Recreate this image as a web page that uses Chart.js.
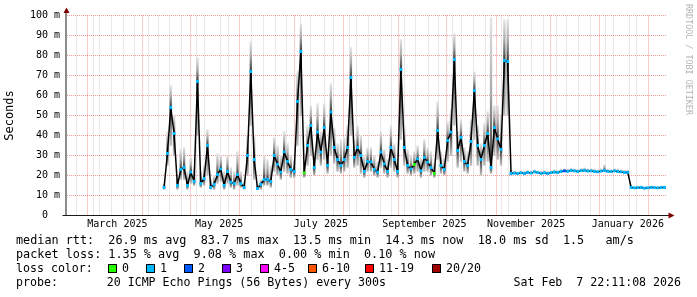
<!DOCTYPE html>
<html lang="en">
<head>
<meta charset="UTF-8">
<title>Median RTT - last 360 days</title>
<style>
  body { margin: 0; background: #fff; }
  canvas { display: block; }
</style>
</head>
<body>
<canvas id="rtt" width="697" height="297"></canvas>
<script src="https://cdn.jsdelivr.net/npm/chart.js@4.4.1/dist/chart.umd.min.js"></script>
<script>
// one consolidated sample every 2 days, first one on 13 Apr 2025
const firstSample = '2025-04-13';
const stepDays = 2;

// median rtt in ms
const median = [
  14, 31, 54, 41, 15, 23, 24, 15, 21.7, 17,
  67, 16, 18.5, 35, 14, 15.5, 20.5, 23.3, 15, 22,
  16.7, 16, 20.5, 16, 14, 30, 72, 28, 13.5, 15.5,
  18, 18, 17, 30, 25.6, 21.7, 31.8, 27, 23, 22,
  57, 82, 21.3, 35, 45, 24, 41.7, 31.7, 44, 25,
  51.7, 34, 28, 25, 28, 34, 69, 29, 34, 30,
  22, 27, 26.8, 23, 21.7, 31.7, 25.8, 22, 34, 28,
  22, 73, 34, 25, 23.3, 25.5, 28.3, 22.3, 29, 26.7,
  24, 21, 42.5, 25, 23, 37.5, 41.7, 78, 32.5, 39,
  27, 25, 37, 62.5, 35, 28, 35, 41, 24, 44,
  38.3, 33, 77.5, 77, 21, 21.2, 21.0, 21.3, 21.0, 21.5,
  21.2, 21.8, 21.4, 21.1, 21.3, 21.0, 21.4, 21.7, 21.5, 22.0,
  22.3, 22.1, 22.5, 22.3, 22.0, 22.4, 22.6, 22.2, 22.3, 22.0,
  21.8, 22.2, 22.5, 22.1, 21.9, 22.3, 22.0, 21.8, 21.5, 21.6,
  14.0, 13.8, 13.9, 14.0, 13.7, 13.8, 14.1, 13.9, 13.8, 14.0,
  14.0
];
// smoke: lowest and highest of the 20 pings, ms
const smokeLo = [
  13, 25, 35, 30, 13, 18, 18, 13, 16, 15,
  40, 14, 15, 20, 13, 13, 16, 17, 13, 16,
  14, 13, 15, 14, 13, 20, 45, 18, 13, 13,
  15, 15, 14, 22, 20, 18, 22, 21, 19, 19,
  35, 50, 19, 25, 30, 20, 28, 25, 28, 21,
  30, 26, 22, 21, 22, 24, 40, 24, 25, 21,
  19, 22, 22, 20, 19, 24, 21, 19, 24, 22,
  19, 38, 25, 21, 20, 21, 22, 19, 22, 22,
  20, 19, 28, 21, 20, 27, 30, 45, 24, 27,
  22, 21, 25, 38, 25, 20, 25, 27, 21, 30,
  28, 25, 50, 50, 20, 20.8, 20.6, 20.9, 20.6, 21.0,
  20.8, 21.3, 21.0, 20.7, 20.9, 20.6, 21.0, 21.2, 21.0, 21.6,
  21.8, 21.7, 22.0, 21.8, 21.6, 21.9, 22.1, 21.8, 21.8, 21.6,
  21.4, 21.8, 22.0, 21.7, 21.5, 21.8, 21.6, 21.4, 21.1, 21.2,
  13.6, 13.4, 13.5, 13.6, 13.3, 13.4, 13.7, 13.5, 13.4, 13.6,
  13.6
];
const smokeHi = [
  16, 42, 65, 50, 19, 33, 34, 22, 29, 24,
  79, 22, 25, 43, 18, 20, 31, 30, 22, 30,
  24, 22, 32, 22, 17, 40, 87, 40, 16, 18,
  30, 28, 25, 39, 35, 30, 42, 36, 30, 28,
  72, 96, 26, 45, 55, 32, 56, 42, 56, 33,
  66, 44, 36, 38, 39, 45, 84, 38, 45, 40,
  30, 34, 34, 30, 27, 42, 33, 28, 45, 36,
  28, 88, 45, 33, 30, 32, 35, 29, 38, 34,
  32, 26, 57, 32, 29, 47, 53, 91, 42, 48,
  34, 32, 48, 72, 45, 36, 46, 52, 99, 55,
  55, 50, 98, 98, 23, 22.3, 22.0, 22.5, 22.2, 22.6,
  22.4, 23.0, 22.5, 22.3, 22.6, 22.1, 22.5, 23.0, 22.6, 23.2,
  23.4, 23.3, 23.8, 23.5, 23.2, 23.6, 24.0, 23.4, 23.5, 23.3,
  23.0, 23.4, 25.5, 23.3, 23.1, 23.5, 23.3, 23.0, 22.7, 22.8,
  14.8, 14.6, 14.7, 14.9, 14.5, 14.6, 14.9, 14.7, 14.6, 14.8,
  14.8
];
// loss colour index per sample
const loss = [
  1, 1, 1, 1, 1, 1, 1, 1, 1, 1, 1, 1, 1, 1, 1, 1, 1, 1, 1, 1,
  1, 1, 1, 1, 1, 1, 1, 1, 1, 1, 1, 1, 1, 1, 1, 1, 1, 1, 1, 1,
  1, 1, 0, 1, 1, 1, 1, 1, 1, 1, 1, 1, 1, 1, 1, 1, 1, 1, 1, 1,
  1, 1, 1, 1, 1, 1, 1, 1, 1, 1, 1, 1, 1, 1, 1, 0, 1, 1, 1, 1,
  1, 0, 1, 1, 1, 1, 1, 1, 1, 1, 1, 1, 1, 1, 1, 1, 1, 1, 1, 1,
  1, 1, 1, 1, 1, 1, 1, 1, 1, 1, 1, 1, 1, 1, 1, 1, 1, 1, 1, 1,
  2, 1, 1, 1, 1, 1, 1, 1, 1, 1, 1, 1, 1, 1, 1, 1, 1, 1, 1, 1,
  1, 1, 1, 1, 1, 1, 1, 1, 1, 1, 1
];

const lossColors = ['#26ff00', '#00b8ff', '#0059ff', '#7e00ff', '#ff00ff', '#ff5500', '#ff0000', '#a10000'];
const lossNames = ['0', '1', '2', '3', '4-5', '6-10', '11-19', '20/20'];

const monthStarts = ['2025-03-01', '2025-04-01', '2025-05-01', '2025-06-01', '2025-07-01', '2025-08-01',
                     '2025-09-01', '2025-10-01', '2025-11-01', '2025-12-01', '2026-01-01', '2026-02-01'];
const xLabelDates = ['2025-03-16', '2025-05-16', '2025-07-16', '2025-09-16', '2025-11-16', '2026-01-16'];
const xLabelText = ['March 2025', 'May 2025', 'July 2025', 'September 2025', 'November 2025', 'January 2026'];

const statsLines = [
  'median rtt:  26.9 ms avg  83.7 ms max  13.5 ms min  14.3 ms now  18.0 ms sd  1.5   am/s',
  'packet loss: 1.35 % avg  9.08 % max  0.00 % min  0.10 % now'
];
const probeLine = 'probe:       20 ICMP Echo Pings (56 Bytes) every 300s';
const stampLine = 'Sat Feb  7 22:11:08 2026';

// x axis in days since 1 Mar 2025
const DAY0 = Date.UTC(2025, 2, 1);
function dayOf(s) { return (Date.parse(s + 'T00:00:00Z') - DAY0) / 864e5; }
const xMin = -15.2, xMax = 343.9;

const days = median.map((v, i) => dayOf(firstSample) + i * stepDays);
const sundays = [];
for (let d = dayOf('2025-02-16'); d <= xMax; d += 7) sundays.push(d);

const MONO = '"DejaVu Sans Mono", monospace';
const RED_GRID = 'rgba(235,50,50,0.5)';
const GRAY_GRID = '#d2d2d2';

function xTicks(scale) {
  const majors = monthStarts.map(dayOf);
  const t = majors.map(v => ({ value: v, kind: 'major', text: '' }));
  sundays.forEach(v => { if (!majors.includes(v)) t.push({ value: v, kind: 'minor', text: '' }); });
  xLabelDates.forEach((s, i) => t.push({ value: dayOf(s), kind: 'label', text: xLabelText[i] }));
  t.sort((a, b) => a.value - b.value);
  scale.ticks = t;
}

// smoke shading: dark around the median, light towards the extremes
function smokeFill(c) {
  const chart = c.chart, y = chart.scales.y;
  if (c.type !== 'data' || !y || !chart.chartArea) return '#bbb';
  const i = c.dataIndex;
  const top = y.getPixelForValue(smokeHi[i]);
  const bot = y.getPixelForValue(smokeLo[i]);
  const mid = y.getPixelForValue(median[i]);
  if (bot - top < 1) return '#999';
  let f = (mid - top) / (bot - top);
  f = Math.min(0.98, Math.max(0.02, f));
  const g = chart.ctx.createLinearGradient(0, top, 0, bot);
  g.addColorStop(0, '#e6e6e6');
  g.addColorStop(f * 0.5, '#a9a9a9');
  g.addColorStop(f, '#3a3a3a');
  g.addColorStop(1, '#c4c4c4');
  return g;
}

const decorations = {
  id: 'decorations',
  afterDraw(chart) {
    const ctx = chart.ctx, a = chart.chartArea;
    ctx.save();
    // axes
    ctx.lineWidth = 1;
    ctx.strokeStyle = '#1a1a1a';
    ctx.beginPath();
    ctx.moveTo(66, 13); ctx.lineTo(66, a.bottom);
    ctx.stroke();
    ctx.beginPath();
    ctx.moveTo(62.5, 215.5); ctx.lineTo(669, 215.5);
    ctx.stroke();
    ctx.fillStyle = '#7f0000';
    ctx.beginPath();
    ctx.moveTo(66.5, 7.5); ctx.lineTo(63.5, 13); ctx.lineTo(69.5, 13); ctx.closePath();
    ctx.fill();
    ctx.beginPath();
    ctx.moveTo(674.5, 215.5); ctx.lineTo(668.5, 212.5); ctx.lineTo(668.5, 218.5); ctx.closePath();
    ctx.fill();

    // watermark
    ctx.save();
    ctx.translate(688, 4);
    ctx.rotate(Math.PI / 2);
    ctx.font = '8.4px ' + MONO;
    ctx.fillStyle = '#b4b4b4';
    ctx.textBaseline = 'middle';
    ctx.fillText('RRDTOOL / TOBI OETIKER', 0, 0);
    ctx.restore();

    // legend
    ctx.fillStyle = '#000';
    ctx.textBaseline = 'middle';
    ctx.textAlign = 'left';
    ctx.font = '11.8px ' + MONO;
    ctx.fillText(statsLines[0], 16, 241);
    ctx.fillText(statsLines[1], 16, 255);
    ctx.font = '11.6px ' + MONO;
    ctx.fillText('loss color:', 16, 269);
    const boxX = [108, 146, 184, 222, 260, 308, 365, 432];
    lossNames.forEach((n, i) => {
      ctx.fillStyle = lossColors[i];
      ctx.fillRect(boxX[i], 264, 9, 9);
      ctx.strokeStyle = '#000';
      ctx.strokeRect(boxX[i] + 0.5, 264.5, 8, 8);
      ctx.fillStyle = '#000';
      ctx.fillText(n, boxX[i] + 14, 269);
    });
    ctx.fillText(probeLine, 16, 283);
    ctx.textAlign = 'right';
    ctx.fillText(stampLine, 681, 283);
    ctx.restore();
  }
};

new Chart(document.getElementById('rtt'), {
  type: 'bar',
  data: {
    datasets: [
      {
        type: 'line',
        label: 'median',
        data: days.map((d, i) => ({ x: d, y: median[i] })),
        borderColor: '#000',
        borderWidth: 1.5,
        borderJoinStyle: 'bevel',
        tension: 0,
        pointStyle: 'rect',
        pointRadius: 2,
        pointBorderWidth: 0,
        pointBackgroundColor: loss.map(l => lossColors[l]),
        order: 0
      },
      {
        type: 'bar',
        label: 'smoke',
        data: days.map((d, i) => ({ x: d, y: [smokeLo[i], smokeHi[i]] })),
        backgroundColor: smokeFill,
        borderWidth: 0,
        barPercentage: 1,
        categoryPercentage: 1,
        grouped: false,
        order: 1
      }
    ]
  },
  options: {
    responsive: false,
    animation: false,
    events: [],
    layout: { padding: { top: 15.5, right: 31, bottom: 66, left: 0 } },
    plugins: { legend: { display: false }, tooltip: { enabled: false } },
    scales: {
      x: {
        type: 'linear',
        min: xMin,
        max: xMax,
        offset: false,
        afterBuildTicks: xTicks,
        afterFit(s) { s.height = 15.5; },
        grid: {
          drawTicks: false,
          color: c => c.tick && c.tick.kind === 'major' ? RED_GRID
                    : c.tick && c.tick.kind === 'minor' ? GRAY_GRID : 'rgba(0,0,0,0)'
        },
        border: { display: false, dash: [1, 1] },
        ticks: {
          autoSkip: false,
          maxRotation: 0,
          minRotation: 0,
          padding: 3,
          color: '#000',
          font: { family: MONO, size: 10 },
          callback: (v, i, t) => t[i].text
        }
      },
      y: {
        min: 0,
        max: 100,
        afterFit(s) { s.width = 67; },
        grid: {
          drawTicks: false,
          color: c => c.tick && c.tick.value % 10 === 0 ? RED_GRID : GRAY_GRID
        },
        border: { display: false, dash: [1, 1] },
        title: {
          display: true,
          text: 'Seconds',
          color: '#000',
          font: { family: MONO, size: 12 },
          padding: { top: 3, bottom: 0 }
        },
        ticks: {
          stepSize: 5,
          maxTicksLimit: 50,
          padding: 7,
          color: '#000',
          font: { family: MONO, size: 10 },
          callback: v => v % 10 ? '' : (v === 0 ? '0  ' : v + ' m')
        }
      }
    }
  },
  plugins: [decorations]
});
</script>
</body>
</html>
